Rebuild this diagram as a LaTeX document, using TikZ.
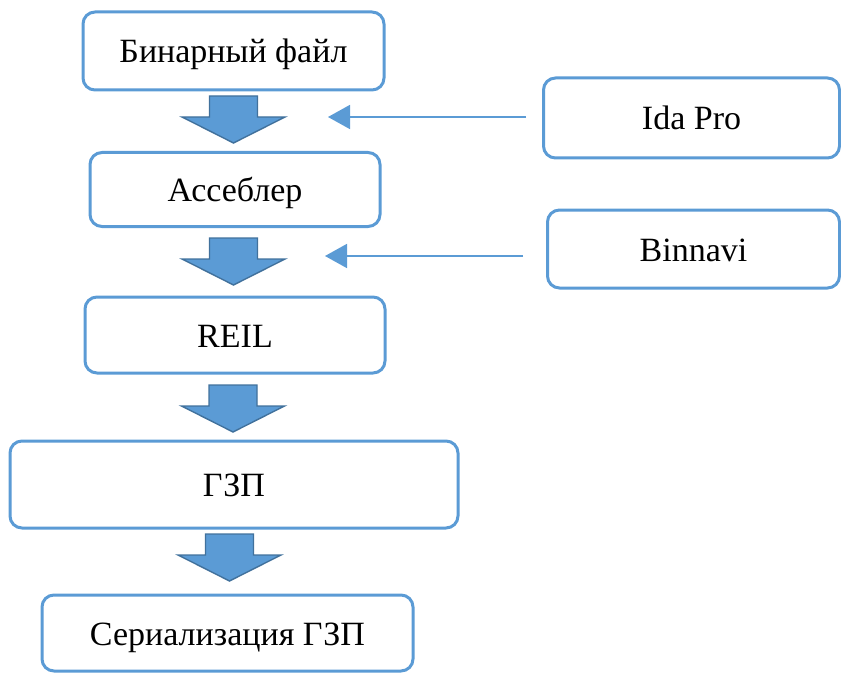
\documentclass[tikz,border=0pt]{standalone}
\usepackage{fontspec}
\setmainfont{Liberation Serif}
\usetikzlibrary{arrows.meta}
\definecolor{boxblue}{HTML}{5B9BD5}
\definecolor{arrowedge}{HTML}{41719C}
\tikzset{
  flowbox/.style={draw=boxblue, line width=3pt, rounded corners=12pt, fill=white,
    inner sep=0pt, font=\fontsize{34}{40}\selectfont, text=black,
    text height=24pt, text depth=0pt},
  blockarrow/.style={fill=boxblue, draw=arrowedge, line width=1.4pt, line join=miter},
  thinarrow/.style={draw=boxblue, line width=1.6pt, -{Triangle[length=22pt,width=24pt]}},
}
\newcommand{\downarrowblock}[2]{% #1 = centre x, #2 = top y
  \path[blockarrow] (#1-24,#2) -- (#1+24,#2) -- (#1+24,#2+21) -- (#1+51.5,#2+21)
    -- (#1,#2+47) -- (#1-51.5,#2+21) -- (#1-24,#2+21) -- cycle;}
\begin{document}
\begin{tikzpicture}[x=1pt,y=-1pt]
\useasboundingbox (0,0) rectangle (841,674);
\node[flowbox, minimum width=301pt, minimum height=78pt] (bin) at (233.5,51) {Бинарный файл};
\node[flowbox, minimum width=290pt, minimum height=74pt] (asm) at (235,189.5) {Ассеблер};
\node[flowbox, minimum width=300pt, minimum height=76pt] (reil) at (235,335) {REIL};
\node[flowbox, minimum width=448pt, minimum height=87pt] (gzp) at (234,484.5) {ГЗП};
\node[flowbox, minimum width=371pt, minimum height=76pt] (ser) at (227.5,633) {Сериализация ГЗП};
\node[flowbox, minimum width=296pt, minimum height=80pt] (ida) at (691.5,118) {Ida Pro};
\node[flowbox, minimum width=292pt, minimum height=78pt] (binnavi) at (693.5,249) {Binnavi};
\coordinate (idatip) at (328,117);
\coordinate (bntip) at (325,256);
\downarrowblock{233.5}{96}
\downarrowblock{233.5}{238}
\downarrowblock{233}{385}
\downarrowblock{229.5}{534}
\draw[thinarrow] (ida.west |- idatip) ++(-16,0) -- (idatip);
\draw[thinarrow] (binnavi.west |- bntip) ++(-23,0) -- (bntip);
\end{tikzpicture}
\end{document}
